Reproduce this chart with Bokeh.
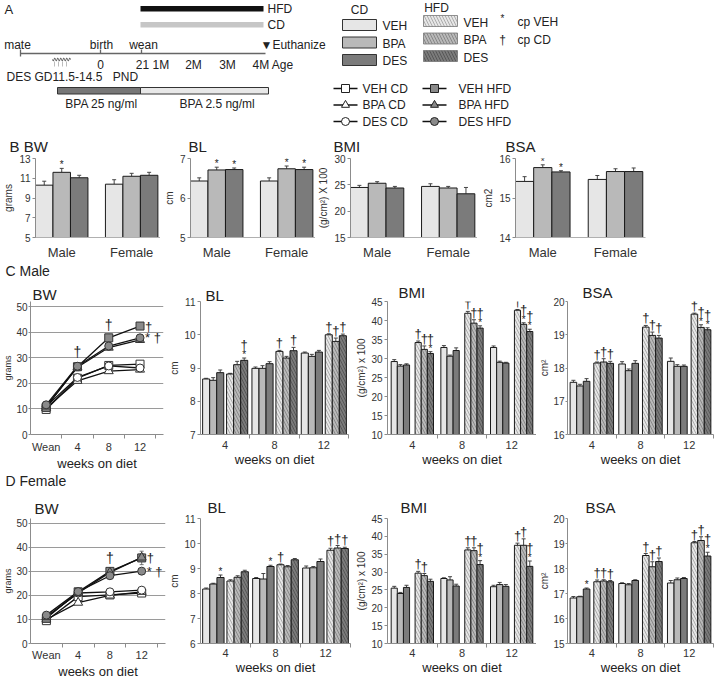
from bokeh.plotting import figure
from bokeh.models import ColumnDataSource, FixedTicker, Range1d, Label, LabelSet, Whisker, TeeHead
from bokeh.layouts import row, column
from bokeh.core.properties import value
from bokeh.embed import file_html
from bokeh.resources import INLINE

FONT = "Liberation Sans"

# ---------------- data ----------------
treatments = ["VEH", "BPA", "DES"]
diets = ["CD", "HFD"]
sexes = ["Male", "Female"]
weeks = ["4", "8", "12"]
bw_times = ["Wean", "4", "8", "12"]

# Panel B: Male VEH, BPA, DES, Female VEH, BPA, DES
b_bw = [10.3, 11.6, 11.05, 10.4, 11.2, 11.3]
b_bw_err = [0.4, 0.4, 0.25, 0.45, 0.3, 0.3]
b_bw_star = [0, 1, 0, 0, 0, 0]
b_bl = [6.43, 6.71, 6.72, 6.43, 6.74, 6.72]
b_bl_err = [0.08, 0.07, 0.04, 0.08, 0.07, 0.06]
b_bl_star = [0, 1, 1, 0, 1, 1]
b_bmi = [24.5, 25.3, 24.4, 24.7, 24.4, 23.3]
b_bmi_err = [0.4, 0.3, 0.3, 0.5, 0.3, 1.2]
b_bmi_star = [0, 0, 0, 0, 0, 0]
b_bsa = [15.42, 15.77, 15.66, 15.47, 15.67, 15.67]
b_bsa_err = [0.12, 0.07, 0.03, 0.1, 0.07, 0.09]
b_bsa_star = [0, 1, 1, 0, 0, 0]

# Panel C (male) body weight lines: Wean, 4, 8, 12 weeks
c_bw_veh_cd = [9.8, 22.0, 27.0, 27.5]
c_bw_bpa_cd = [10.4, 21.0, 24.8, 25.4]
c_bw_des_cd = [11.0, 22.3, 26.8, 26.0]
c_bw_veh_hfd = [10.6, 26.5, 37.8, 42.4]
c_bw_bpa_hfd = [11.0, 26.3, 34.0, 37.0]
c_bw_des_hfd = [11.6, 26.7, 34.6, 37.8]
c_bw_veh_cd_err = [0.6, 0.8, 0.8, 1.0]
c_bw_bpa_cd_err = [0.5, 0.6, 0.6, 0.8]
c_bw_des_cd_err = [0.5, 0.7, 0.7, 0.8]
c_bw_veh_hfd_err = [0.6, 1.6, 0.8, 0.6]
c_bw_bpa_hfd_err = [0.6, 1.0, 1.0, 1.0]
c_bw_des_hfd_err = [0.5, 1.0, 0.9, 1.0]
c_bw_above = ["", "\u2020", "\u2020", ""]
c_bw_hfd_right = ["\u2020", "", "* \u2020"]

# Panel C bars: per week (4, 8, 12): CD VEH, CD BPA, CD DES, HFD VEH, HFD BPA, HFD DES
c_bl = [8.67, 8.63, 8.86, 8.82, 9.10, 9.23, 8.99, 8.99, 9.13, 9.50, 9.30, 9.52, 9.45, 9.35, 9.48, 10.00, 9.80, 9.97]
c_bl_err = [0.02, 0.08, 0.08, 0.02, 0.10, 0.07, 0.04, 0.08, 0.06, 0.03, 0.05, 0.10, 0.03, 0.06, 0.05, 0.03, 0.10, 0.05]
c_bl_star = [0, 0, 0, 0, 0, 1, 0, 0, 0, 0, 0, 0, 0, 0, 0, 0, 0, 0]
c_bl_dag = [0, 0, 0, 0, 0, 1, 0, 0, 0, 1, 0, 1, 0, 0, 0, 1, 1, 1]
c_bmi = [29.2, 28.0, 28.3, 34.2, 32.4, 31.3, 32.9, 30.6, 32.1, 41.9, 39.3, 38.0, 32.9, 29.0, 28.8, 42.7, 39.0, 37.1]
c_bmi_err = [0.5, 0.4, 0.3, 0.4, 0.9, 0.5, 0.5, 0.3, 0.7, 0.5, 0.9, 0.6, 0.4, 0.3, 0.2, 0.2, 0.4, 0.6]
c_bmi_star = [0, 0, 0, 0, 0, 1, 0, 0, 0, 0, 0, 1, 0, 0, 0, 0, 1, 1]
c_bmi_dag = [0, 0, 0, 1, 1, 1, 0, 0, 0, 1, 1, 1, 0, 0, 0, 1, 1, 1]
c_bsa = [17.57, 17.46, 17.60, 18.15, 18.18, 18.14, 18.12, 17.92, 18.14, 19.23, 18.98, 18.90, 18.20, 18.05, 18.05, 19.62, 19.22, 19.15]
c_bsa_err = [0.06, 0.05, 0.08, 0.03, 0.10, 0.06, 0.07, 0.05, 0.08, 0.05, 0.10, 0.08, 0.10, 0.05, 0.04, 0.03, 0.08, 0.06]
c_bsa_star = [0, 0, 0, 0, 0, 0, 0, 0, 0, 0, 0, 0, 0, 0, 0, 0, 1, 1]
c_bsa_dag = [0, 0, 0, 1, 1, 1, 0, 0, 0, 1, 1, 1, 0, 0, 0, 1, 1, 1]

# Panel D (female)
d_bw_veh_cd = [9.5, 19.5, 20.2, 21.0]
d_bw_bpa_cd = [10.0, 17.0, 20.0, 21.5]
d_bw_des_cd = [11.0, 21.0, 21.5, 22.2]
d_bw_veh_hfd = [10.5, 21.5, 30.0, 35.6]
d_bw_bpa_hfd = [11.0, 21.0, 29.6, 35.8]
d_bw_des_hfd = [11.8, 21.6, 28.2, 30.1]
d_bw_veh_cd_err = [0.5, 0.6, 0.6, 0.7]
d_bw_bpa_cd_err = [0.5, 0.6, 0.6, 0.7]
d_bw_des_cd_err = [0.5, 0.6, 0.6, 0.7]
d_bw_veh_hfd_err = [0.5, 0.8, 1.0, 2.8]
d_bw_bpa_hfd_err = [0.5, 0.8, 1.0, 1.5]
d_bw_des_hfd_err = [0.5, 0.8, 0.8, 0.8]
d_bw_above = ["", "", "\u2020", ""]
d_bw_hfd_right = ["\u2020", "", "* \u2020"]

d_bl = [8.18, 8.38, 8.64, 8.50, 8.65, 8.87, 8.60, 8.58, 9.08, 9.15, 9.07, 9.35, 9.02, 9.03, 9.28, 9.73, 9.82, 9.80]
d_bl_err = [0.04, 0.03, 0.10, 0.05, 0.06, 0.06, 0.04, 0.22, 0.05, 0.03, 0.05, 0.05, 0.08, 0.05, 0.10, 0.08, 0.10, 0.05]
d_bl_star = [0, 0, 1, 0, 0, 0, 0, 0, 1, 0, 0, 0, 0, 0, 0, 0, 0, 0]
d_bl_dag = [0, 0, 0, 0, 0, 0, 0, 0, 0, 1, 0, 0, 0, 0, 0, 1, 1, 1]
d_bmi = [25.5, 24.0, 25.7, 29.7, 29.0, 27.4, 28.2, 27.8, 26.1, 36.2, 36.0, 32.1, 25.9, 26.5, 26.0, 37.5, 37.5, 31.6]
d_bmi_err = [0.5, 0.3, 0.6, 0.5, 0.6, 0.6, 0.2, 0.9, 0.5, 0.6, 0.8, 1.1, 0.4, 0.6, 0.5, 0.6, 1.8, 1.5]
d_bmi_star = [0, 0, 0, 0, 0, 0, 0, 0, 0, 0, 0, 1, 0, 0, 0, 0, 0, 1]
d_bmi_dag = [0, 0, 0, 1, 1, 0, 0, 0, 0, 1, 1, 1, 0, 0, 0, 1, 1, 1]
d_bsa = [16.82, 16.87, 17.18, 17.47, 17.50, 17.47, 17.40, 17.35, 17.52, 18.52, 18.07, 18.28, 17.42, 17.55, 17.60, 19.03, 19.12, 18.50]
d_bsa_err = [0.06, 0.02, 0.04, 0.07, 0.05, 0.05, 0.03, 0.05, 0.03, 0.08, 0.20, 0.14, 0.10, 0.07, 0.04, 0.05, 0.15, 0.15]
d_bsa_star = [0, 0, 1, 0, 0, 0, 0, 0, 0, 0, 0, 0, 0, 0, 0, 0, 0, 1]
d_bsa_dag = [0, 0, 0, 1, 1, 1, 0, 0, 0, 1, 1, 1, 0, 0, 0, 1, 1, 1]

# ---------------- styles ----------------
C_VEH, C_BPA, C_DES = "#e6e6e6", "#b9b9b9", "#7b7b7b"
H_VEH, H_BPA, H_DES = "#9c9c9c", "#7a7a7a", "#4c4c4c"
AX = "#8c8c8c"
TXT = "#222222"
DAG = "\u2020"


def base_fig(gx0, gx1, gy0, gy1, fx0, fx1, fy0, fy1, xr, yr, axes=True):
    kw = {} if axes else dict(x_axis_location=None, y_axis_location=None)
    p = figure(width=int(round(gx1)) - int(round(gx0)), height=int(round(gy1)) - int(round(gy0)),
               output_backend="svg", toolbar_location=None, x_range=Range1d(*xr), y_range=Range1d(*yr),
               min_border_left=int(round(fx0)) - int(round(gx0)),
               min_border_right=int(round(gx1)) - int(round(fx1)),
               min_border_top=int(round(fy0)) - int(round(gy0)),
               min_border_bottom=int(round(gy1)) - int(round(fy1)), **kw)
    p.outline_line_color = None
    p.xgrid.visible = False
    p.ygrid.visible = False
    geo = dict(fx0=fx0, fx1=fx1, fy0=fy0, fy1=fy1, xr=xr, yr=yr)
    return p, geo


def to_data(geo, X, Y):
    xr, yr = geo["xr"], geo["yr"]
    dx = xr[0] + (X - geo["fx0"]) / (geo["fx1"] - geo["fx0"]) * (xr[1] - xr[0])
    dy = yr[0] + (geo["fy1"] - Y) / (geo["fy1"] - geo["fy0"]) * (yr[1] - yr[0])
    return dx, dy


def label(p, geo, X, Y, text, size=12, align="left", angle=0.0, color=TXT, baseline="middle"):
    dx, dy = to_data(geo, X, Y)
    p.add_layout(Label(x=dx, y=dy, text=text, text_font=FONT, text_font_size=f"{size}px",
                       text_align=align, text_baseline=baseline, angle=angle, text_color=color))


def set_title(p, text, offset, standoff, size=15):
    t = p.title
    t.text = text
    t.align = "left"
    t.offset = int(round(offset))
    t.standoff = int(round(standoff))
    t.text_font = FONT
    t.text_font_size = f"{size}px"
    t.text_font_style = "normal"
    t.text_color = TXT


def style_y(p, ticks, ylabel, size="10px", lab_size="10px", lab_standoff=2, tick_out=3, standoff=2):
    ax = p.yaxis[0]
    ax.ticker = FixedTicker(ticks=ticks)
    ax.major_tick_out = tick_out
    ax.major_tick_in = 0
    ax.minor_tick_out = 0
    ax.minor_tick_in = 0
    ax.axis_line_color = AX
    ax.major_tick_line_color = AX
    ax.major_label_text_font = FONT
    ax.major_label_text_font_size = size
    ax.major_label_text_color = "#333333"
    ax.major_label_standoff = standoff
    ax.axis_label = ylabel
    ax.axis_label_text_font = FONT
    ax.axis_label_text_font_size = lab_size
    ax.axis_label_text_font_style = "normal"
    ax.axis_label_text_color = "#333333"
    ax.axis_label_standoff = lab_standoff


def style_x(p, centers, names, bounds, size="11px", standoff=4, xlabel=None, lab_standoff=1):
    ax = p.xaxis[0]
    ax.ticker = FixedTicker(ticks=centers, minor_ticks=bounds)
    ax.major_label_overrides = {c: n for c, n in zip(centers, names)}
    ax.major_tick_out = 0
    ax.major_tick_in = 0
    ax.minor_tick_out = 4 if bounds else 0
    ax.minor_tick_in = 0
    ax.axis_line_color = AX
    ax.minor_tick_line_color = AX
    ax.major_label_text_font = FONT
    ax.major_label_text_font_size = size
    ax.major_label_text_color = "#333333"
    ax.major_label_standoff = standoff
    if xlabel:
        ax.axis_label = xlabel
        ax.axis_label_text_font = FONT
        ax.axis_label_text_font_size = "13px"
        ax.axis_label_text_font_style = "normal"
        ax.axis_label_text_color = TXT
        ax.axis_label_standoff = lab_standoff


def add_bars(p, xs, bottom, means, errs, stars, dags, fills, hatches, hcolors, whisk="#444444"):
    upper = [m + e for m, e in zip(means, errs)]
    src = ColumnDataSource(dict(
        x=xs, top=means, upper=upper, fill=fills, hatch=hatches, hcol=hcolors,
        star=["*" if s else "" for s in stars],
        dag=[DAG if d else "" for d in dags],
        doff=[6 if s else 0 for s in stars],
    ))
    p.vbar(x="x", top="top", bottom=bottom, width=1.0, source=src, fill_color="fill",
           line_color="#1a1a1a", line_width=1, hatch_pattern="hatch", hatch_color="hcol",
           hatch_scale=6, hatch_weight=0.8)
    p.add_layout(Whisker(source=src, base="x", lower="top", upper="upper", dimension="height",
                         line_color=whisk, line_width=1,
                         upper_head=TeeHead(size=4, line_color=whisk, line_width=1),
                         lower_head=None))
    p.add_layout(LabelSet(x="x", y="upper", text="star", source=src, text_align="center",
                          text_baseline="bottom", y_offset=-2, text_font=value(FONT),
                          text_font_size=value("10px"), text_color=TXT))
    p.add_layout(LabelSet(x="x", y="upper", text="dag", source=src, text_align="center",
                          text_baseline="bottom", y_offset="doff", text_font=value(FONT),
                          text_font_size=value("13px"), text_color=TXT))


# ---------------- Panel A (timeline) ----------------
ROW_A = 128
pA, gA = base_fig(0, 330, 0, ROW_A, 0, 330, 0, ROW_A, (0, 330), (ROW_A, 0), axes=False)
label(pA, gA, 4, 9, "A", 13)
pA.quad(left=[140], right=[263], top=[5.5], bottom=[11], fill_color="#111111", line_color=None)
pA.quad(left=[140], right=[263], top=[21.5], bottom=[27], fill_color="#c6c6c6", line_color=None)
label(pA, gA, 267, 8.5, "HFD", 12)
label(pA, gA, 267, 24.5, "CD", 12)
pA.segment(x0=[20], y0=[53], x1=[265], y1=[53], line_color="#666666", line_width=1.3)
pA.segment(x0=[20, 100, 141], y0=[49, 49, 49], x1=[20, 100, 141], y1=[56, 53, 53],
           line_color="#666666", line_width=1.3)
label(pA, gA, 17, 44, "mate", 12, "center")
label(pA, gA, 101, 44, "birth", 12, "center")
label(pA, gA, 143, 44, "wean", 12, "center")
label(pA, gA, 260, 44, "\u25bcEuthanize", 12)
label(pA, gA, 100, 64, "0", 12, "center")
label(pA, gA, 142, 64, "21", 12, "center")
label(pA, gA, 152, 64, "1M", 12, "left")
label(pA, gA, 193, 64, "2M", 12, "center")
label(pA, gA, 227, 64, "3M", 12, "center")
label(pA, gA, 252, 64, "4M Age", 12)
wx = [52 + i * 0.5 for i in range(37)]
wy = [59 + 1.3 * (1 if (i // 3) % 2 == 0 else -1) * (0 if i % 3 == 0 else 1) for i in range(37)]
pA.line(wx, wy, line_color="#555555", line_width=1)
pA.segment(x0=[54, 58, 62, 66], y0=[61, 61, 61, 61], x1=[54, 58, 62, 66], y1=[66, 66, 66, 66],
           line_color="#aaaaaa", line_width=0.8)
label(pA, gA, 6, 76, "DES  GD11.5-14.5", 12)
label(pA, gA, 125, 76, "PND", 12, "center")
pA.quad(left=[57], right=[140], top=[87], bottom=[93.5], fill_color="#777777", line_color="#333333", line_width=1)
pA.quad(left=[140], right=[268], top=[87], bottom=[93.5], fill_color="#e8e8e8", line_color="#333333", line_width=1)
label(pA, gA, 101, 103, "BPA 25 ng/ml", 12, "center")
label(pA, gA, 217, 103, "BPA 2.5 ng/ml", 12, "center")

# ---------------- Legend ----------------
pL, gL = base_fig(330, 714, 0, ROW_A, 330, 714, 0, ROW_A, (330, 714), (ROW_A, 0), axes=False)
label(pL, gL, 359, 9, "CD", 12, "center")
label(pL, gL, 436, 7, "HFD", 12, "center")
box_tops = [19, 36.5, 54]
hbox_tops = [15, 32.5, 50]
for i, (nm, fc, hc) in enumerate(zip(treatments, [C_VEH, C_BPA, C_DES], [H_VEH, H_BPA, H_DES])):
    pL.quad(left=[342], right=[376], top=[box_tops[i]], bottom=[box_tops[i] + 11],
            fill_color=fc, line_color="#333333", line_width=1)
    label(pL, gL, 382, box_tops[i] + 6.5, nm, 12)
    pL.quad(left=[423], right=[457], top=[hbox_tops[i]], bottom=[hbox_tops[i] + 11],
            fill_color=fc, line_color="#777777", line_width=0.8,
            hatch_pattern="\\", hatch_color=hc, hatch_scale=6, hatch_weight=0.8)
    label(pL, gL, 463, hbox_tops[i] + 7, nm, 12)
label(pL, gL, 502, 18, "*", 10, "center")
label(pL, gL, 517, 21, "cp VEH", 12)
label(pL, gL, 502, 39, DAG, 12, "center")
label(pL, gL, 517, 39, "cp CD", 12)
markers = ["square", "triangle", "circle"]
line_rows = [88, 104.5, 121]
for i, (nm, mk) in enumerate(zip(treatments, markers)):
    yy = line_rows[i]
    pL.line([333, 357], [yy, yy], line_color="#111111", line_width=1.3)
    pL.scatter([345], [yy], marker=mk, size=8, fill_color="white", line_color="#222222", line_width=1)
    label(pL, gL, 362, yy, f"{nm} {diets[0]}", 12)
    pL.line([422, 446], [yy, yy], line_color="#111111", line_width=1.3)
    pL.scatter([434], [yy], marker=mk, size=8, fill_color="#8a8a8a", line_color="#222222", line_width=1)
    label(pL, gL, 458, yy, f"{nm} {diets[1]}", 12)

# ---------------- Panel B ----------------
ROW_B_END = 262
b_xs = [0.5, 1.5, 2.5, 4.5, 5.5, 6.5]
b_centers = [1.5, 5.5]
b_fills = [C_VEH, C_BPA, C_DES, C_VEH, C_BPA, C_DES]
b_specs = [
    # fig x0, x1, frame x0, title, title x, ylabel, ymin, ymax, ticks, data
    (0, 160, 32, "B  BW", 6, "grams", 5, 13, [5, 7, 9, 11, 13], b_bw, b_bw_err, b_bw_star),
    (160, 315, 185, "BL", 183, "cm", 5, 7, [5, 6, 7], b_bl, b_bl_err, b_bl_star),
    (315, 477, 347, "BMI", 330, "(g/cm\u00b2) X 100", 15, 30, [15, 20, 25, 30], b_bmi, b_bmi_err, b_bmi_star),
    (477, 714, 515, "BSA", 505, "cm2", 14, 16, [14, 15, 16], b_bsa, b_bsa_err, b_bsa_star),
]
rowB = []
for k, (gx0, gx1, fx0, tt, tx, yl, y0, y1, ticks, vals, errs, stars) in enumerate(b_specs):
    p, g = base_fig(gx0, gx1, ROW_A, ROW_B_END, fx0, fx0 + 130, 158, 238, (0, 7.15), (y0, y1))
    add_bars(p, b_xs, y0, vals, errs, stars, [0] * 6, b_fills, [" "] * 6, [C_VEH] * 6)
    style_y(p, ticks, yl)
    style_x(p, b_centers, sexes, [], size="13px", standoff=7)
    p.xaxis[0].axis_line_color = "#b0b0b0"
    set_title(p, tt, tx - fx0, 8)
    rowB.append(p)


def letter_row(y0, y1, text, ty):
    p, g = base_fig(0, 714, y0, y1, 0, 714, y0, y1, (0, 714), (y1, y0), axes=False)
    label(p, g, 5, ty, text, 14)
    return p


# ---------------- Panels C and D ----------------
def cd_positions(pad, gap):
    G = 2 * pad + 6 + gap
    xs = []
    for gi in range(3):
        for b in range(6):
            xs.append(gi * G + pad + b + 0.5 + (gap if b >= 3 else 0))
    centers = [gi * G + G / 2 for gi in range(3)]
    bounds = [G * (gi + 1) for gi in range(3)]
    return xs, centers, bounds, 3 * G


cd_fills = [C_VEH, C_BPA, C_DES, C_VEH, C_BPA, C_DES] * 3
cd_hatch = [" ", " ", " ", "\\", "\\", "\\"] * 3
cd_hcol = [C_VEH, C_BPA, C_DES, H_VEH, H_BPA, H_DES] * 3

XL, XR = 0, 166
SPLIT = 536
BW_TOP = 52


def bw_panel(gy0, gy1, fx0, fx1, fy0, fy1, series, above, rights, title_x, title_so, xso, xlso):
    xmax = 4.25
    fx1e = fx0 + (fx1 - fx0) * xmax / 4
    p, g = base_fig(XL, XR, gy0, gy1, fx0, fx1e, fy0, fy1, (0, xmax), (0, BW_TOP))
    xs = [0.5, 1.5, 2.5, 3.5]
    p.ygrid.visible = True
    p.ygrid.ticker = FixedTicker(ticks=[10, 20, 30, 40, 50])
    p.ygrid.grid_line_color = "#9a9a9a"
    p.ygrid.grid_line_width = 1
    for vals, errs, mk, fc in series:
        p.line(xs, vals, line_color="#111111", line_width=1.3)
    for vals, errs, mk, fc in series:
        s = ColumnDataSource(dict(x=xs, lo=[v - e for v, e in zip(vals, errs)],
                                  hi=[v + e for v, e in zip(vals, errs)]))
        p.add_layout(Whisker(source=s, base="x", lower="lo", upper="hi", dimension="height",
                             line_color="#555555", line_width=0.8,
                             upper_head=TeeHead(size=4, line_color="#555555", line_width=0.8),
                             lower_head=TeeHead(size=4, line_color="#555555", line_width=0.8)))
        p.scatter(xs, vals, marker=mk, size=9 if mk == "triangle" else 8, fill_color=fc,
                  line_color="#333333", line_width=1)
    hfd = series[3:]
    for i, t in enumerate(above):
        if t:
            top = max(v[i] + e[i] for v, e, _, _ in hfd)
            p.add_layout(Label(x=xs[i], y=top, text=t, text_font=FONT, text_font_size="14px",
                               text_align="center", text_baseline="bottom", y_offset=3, text_color=TXT))
    for (vals, errs, _, _), t in zip(hfd, rights):
        if t:
            p.add_layout(Label(x=xs[3], y=vals[3], text=t, text_font=FONT, text_font_size="13px",
                               text_align="left", text_baseline="middle", x_offset=5, text_color=TXT))
    style_y(p, [0, 10, 20, 30, 40, 50], "grams", lab_size="9px", lab_standoff=0, tick_out=2, standoff=1)
    style_x(p, xs, bw_times, [1, 2, 3, 4], size="11px", standoff=xso, xlabel="weeks on diet",
            lab_standoff=xlso)
    set_title(p, "BW", title_x - fx0, title_so)
    return p


def bar_panel(gx0, gx1, fx0, fx1, gy0, gy1, fy0, fy1, y0, y1, ticks, pad, gap, vals, errs, stars, dags,
              title, title_x, title_so, ylab, xso, xlso, compact=False):
    xs, centers, bounds, xmax = cd_positions(pad, gap)
    p, g = base_fig(gx0, gx1, gy0, gy1, fx0, fx1, fy0, fy1, (0, xmax), (y0, y1))
    add_bars(p, xs, y0, vals, errs, stars, dags, cd_fills, cd_hatch, cd_hcol)
    if compact:
        style_y(p, ticks, ylab, lab_standoff=0, tick_out=2, standoff=1)
    else:
        style_y(p, ticks, ylab, lab_standoff=1)
    style_x(p, centers, weeks, bounds, size="11px", standoff=xso, xlabel="weeks on diet", lab_standoff=xlso)
    set_title(p, title, title_x - fx0, title_so)
    return p


BL_PG = (0.3, 0.4)
BMI_PG = (0.6, 0.9)
BSA_PG = (0.4, 0.6)

c_series = [
    (c_bw_veh_cd, c_bw_veh_cd_err, "square", "white"),
    (c_bw_bpa_cd, c_bw_bpa_cd_err, "triangle", "white"),
    (c_bw_des_cd, c_bw_des_cd_err, "circle", "white"),
    (c_bw_veh_hfd, c_bw_veh_hfd_err, "square", "#8a8a8a"),
    (c_bw_bpa_hfd, c_bw_bpa_hfd_err, "triangle", "#8a8a8a"),
    (c_bw_des_hfd, c_bw_des_hfd_err, "circle", "#8a8a8a"),
]
d_series = [
    (d_bw_veh_cd, d_bw_veh_cd_err, "square", "white"),
    (d_bw_bpa_cd, d_bw_bpa_cd_err, "triangle", "white"),
    (d_bw_des_cd, d_bw_des_cd_err, "circle", "white"),
    (d_bw_veh_hfd, d_bw_veh_hfd_err, "square", "#8a8a8a"),
    (d_bw_bpa_hfd, d_bw_bpa_hfd_err, "triangle", "#8a8a8a"),
    (d_bw_des_hfd, d_bw_des_hfd_err, "circle", "#8a8a8a"),
]

C0, C1 = 280, 474
D0, D1 = 490, 681

rowC = [
    bw_panel(C0, C1, 25, 155, 298, 434, c_series, c_bw_above, c_bw_hfd_right, 27, -3, 2, 0),
    bar_panel(166, 352, 197, 348, C0, C1, 296, 434, 7, 11, [7, 8, 9, 10, 11], *BL_PG,
              c_bl, c_bl_err, c_bl_star, c_bl_dag, "BL", 202, -4, "cm", 2, 0),
    bar_panel(352, SPLIT, 387, SPLIT, C0, C1, 301, 434, 10, 45, [10, 15, 20, 25, 30, 35, 40, 45], *BMI_PG,
              c_bmi, c_bmi_err, c_bmi_star, c_bmi_dag, "BMI", 398, 1, "(g/cm\u00b2) x 100", 2, 0),
    bar_panel(SPLIT, 714, 562, 713, C0, C1, 301, 434, 16, 20, [16, 17, 18, 19, 20], *BSA_PG,
              c_bsa, c_bsa_err, c_bsa_star, c_bsa_dag, "BSA", 577, 1, "cm\u00b2", 2, 0, compact=True),
]
rowD = [
    bw_panel(D0, D1, 26, 157, 517, 652, d_series, d_bw_above, d_bw_hfd_right, 30, 4, 1, 0),
    bar_panel(166, 352, 198, 350, D0, D1, 518, 652, 6, 11, [6, 7, 8, 9, 10, 11], *BL_PG,
              d_bl, d_bl_err, d_bl_star, d_bl_dag, "BL", 205, 5, "cm", 1, 0),
    bar_panel(352, SPLIT, 387, SPLIT, D0, D1, 518, 652, 10, 45, [10, 15, 20, 25, 30, 35, 40, 45], *BMI_PG,
              d_bmi, d_bmi_err, d_bmi_star, d_bmi_dag, "BMI", 400, 5, "(g/cm\u00b2) x 100", 1, 0),
    bar_panel(SPLIT, 714, 562, 713, D0, D1, 518, 652, 15, 20, [15, 16, 17, 18, 19, 20], *BSA_PG,
              d_bsa, d_bsa_err, d_bsa_star, d_bsa_dag, "BSA", 580, 5, "cm\u00b2", 1, 0, compact=True),
]

layout = column(
    row(pA, pL),
    row(*rowB),
    letter_row(ROW_B_END, C0, "C Male", 270),
    row(*rowC),
    letter_row(C1, D0, "D Female", 480),
    row(*rowD),
)
open("out.html", "w").write(file_html(layout, INLINE))
